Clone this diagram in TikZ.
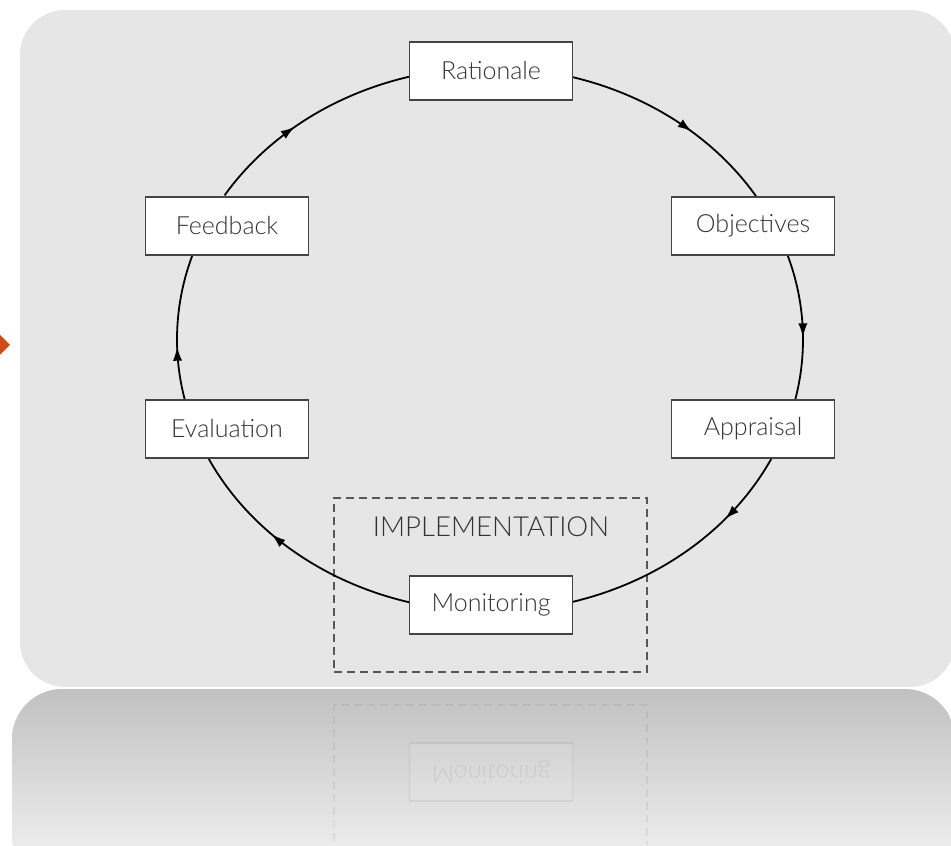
\documentclass[tikz,border=0pt]{standalone}
\usepackage{fontspec}
\IfFontExistsTF{Lato Light}{\setmainfont{Lato Light}}{\setmainfont{Lato}}
\usepackage{xcolor}
\usetikzlibrary{arrows.meta,decorations.markings}

\definecolor{panelgrey}{HTML}{E6E6E6}
\definecolor{reflecttop}{HTML}{C1C1C1}
\definecolor{reflectbottom}{HTML}{F6F6F6}
\definecolor{boxgrey}{HTML}{444444}
\definecolor{textgrey}{HTML}{333333}
\definecolor{accent}{HTML}{D04A18}

\begin{document}
\begin{tikzpicture}[
        x=0.5pt, y=0.5pt,
        % Define styles for the cycle
        stagebox/.style={
            draw=boxgrey,
            fill=white,
            rectangle,
            line width=0.75pt,
            minimum width=81.5pt,
            minimum height=29pt,
            inner sep=0pt,
            text=textgrey,
            font=\fontsize{12.5}{15}\selectfont
        },
        phasebox/.style={
            draw=boxgrey!90,
            dashed,
            dash pattern=on 4pt off 2.5pt,
            line width=0.75pt,
            rectangle,
            minimum width=156.5pt,
            minimum height=87pt,
            inner sep=0pt
        },
        flow/.style={
            line width=0.9pt,
            black,
            decoration={markings,
                mark=at position #1 with {\arrow{Latex[length=7pt,width=4.6pt]}}},
            postaction={decorate}
        }
    ]

    \useasboundingbox (0,0) rectangle (951,845);

    % Background panel and its reflection
    \fill[panelgrey, rounded corners=22.5pt] (20,158) rectangle (955,835);
    \shade[top color=reflecttop, bottom color=reflectbottom, rounded corners=25pt]
        (12,-40) rectangle (955,156);
    \fill[accent] (-10,500) -- (0,510) -- (10,500) -- (0,490) -- cycle;

    % Centre of the cycle
    \coordinate (c) at (490,505.5);

    % Implementation phase
    \node[phasebox] (impl) at (490.5,260) {};
    \node[text=textgrey, font=\fontsize{13.8}{16}\selectfont] (impllabel) at (491,318) {IMPLEMENTATION};

    % Arcs of the cycle
    \foreach \from/\to/\pos in {75/31.6/0.59, 18/-12.8/0.57, -26/-75/0.3,
                                -105/-154/0.61, 193/162/0.37, 148/105/0.44} {
        \draw[flow=\pos] (c) ++(\from:313 and 272)
            arc[start angle=\from, end angle=\to, x radius=313, y radius=272];
    }

    % Stages
    \node[stagebox] (rat) at (491,774) {Rationale};
    \node[stagebox] (obj) at (753,619) {Objectives};
    \node[stagebox] (app) at (753,416) {Appraisal};
    \node[stagebox] (mon) at (491,240) {Monitoring};
    \node[stagebox] (eva) at (227,416) {Evaluation};
    \node[stagebox] (fb) at (227,619) {Feedback};

    % Faint mirror image
    \begin{scope}
        \clip[rounded corners=25pt] (12,-40) rectangle (955,156);
        \begin{scope}[shift={(0,313)}, yscale=-1, transform shape, opacity=0.09]
            \node[phasebox] (implr) at (490.5,260) {};
            \foreach \from/\to in {-26/-75, -105/-154} {
                \draw[line width=0.9pt] (c) ++(\from:313 and 272)
                    arc[start angle=\from, end angle=\to, x radius=313, y radius=272];
            }
            \node[stagebox] (monr) at (491,240) {Monitoring};
        \end{scope}
    \end{scope}

\end{tikzpicture}
\end{document}
